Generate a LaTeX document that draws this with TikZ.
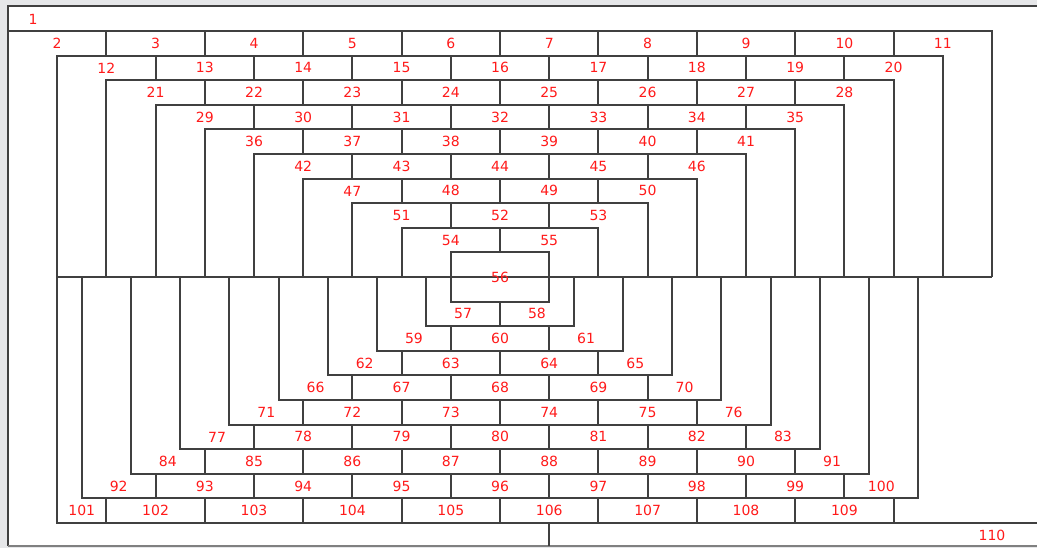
\documentclass[tikz,border=0pt]{standalone}
\usepackage{fontspec}
\setmainfont{DejaVu Sans}
\definecolor{lncol}{HTML}{404040}
\definecolor{labcol}{HTML}{FF1A1A}
\definecolor{bgcol}{HTML}{E6E7E9}
\begin{document}
\begin{tikzpicture}[x=0.75pt,y=-0.75pt,
  declare function={gx(\k)=8+49.2*\k; gy(\r)=31+24.6*\r;},
  ln/.style={draw=lncol, line width=1.5pt, line join=miter},
  lbl/.style={text=labcol, font=\fontsize{10.5}{12}\selectfont, inner sep=0pt, anchor=center}]
\useasboundingbox (0,0) rectangle (1037,548);
\fill[bgcol] (0,0) rectangle (1037,548);
\fill[white] (8,6) rectangle (1037,546);
\draw[ln] (1037,6) -- (8,6) -- (8,546);
\draw[draw=gray, line width=1pt] (8,546) -- (1037,546);
\node[lbl] (n1) at (33,19) {1};
% upper half
\foreach \r in {0,...,8}{
  \draw[ln] ({gx(\r)},{gy(10)}) -- ({gx(\r)},{gy(\r)}) -- ({gx(20-\r)},{gy(\r)}) -- ({gx(20-\r)},{gy(10)});
}
\draw[ln] ({gx(1)},{gy(10)}) -- ({gx(20)},{gy(10)});
\draw[ln] ({gx(1)},{gy(10)}) -- ({gx(1)},{gy(20)}) -- (1037,{gy(20)});
\foreach \r in {0,...,8}{
  \pgfmathtruncatemacro\n{9-\r}
  \foreach \j in {1,...,\n}{
    \draw[ln] ({gx(\r+2*\j)},{gy(\r)}) -- ({gx(\r+2*\j)},{gy(\r+1)});
  }
}
\draw[ln] ({gx(9)},{gy(9)}) rectangle ({gx(11)},{gy(11)});
\foreach \r in {0,...,8}{
  \pgfmathtruncatemacro\n{10-\r}
  \pgfmathtruncatemacro\st{2+10*\r-\r*(\r-1)/2}
  \foreach \j in {1,...,\n}{
    \pgfmathtruncatemacro\num{\st+\j-1}
    \node[lbl] (n\num) at ({gx(\r+2*\j-1)},{gy(\r)+12.3}) {\num};
  }
}
\node[lbl] (n56) at ({gx(10)},{gy(10)}) {56};
% lower half
\foreach \s in {1,...,8}{
  \draw[ln] ({gx(9.5-\s)},{gy(10)}) -- ({gx(9.5-\s)},{gy(11+\s)}) -- ({gx(10.5+\s)},{gy(11+\s)}) -- ({gx(10.5+\s)},{gy(10)});
}
\foreach \s in {1,...,9}{
  \foreach \j in {1,...,\s}{
    \draw[ln] ({gx(9+2*\j-\s)},{gy(10+\s)}) -- ({gx(9+2*\j-\s)},{gy(11+\s)});
  }
}
\foreach \s in {1,...,8}{
  \pgfmathtruncatemacro\st{57+(\s-1)*\s/2+\s-1}
  \node[lbl] (n\st) at ({gx(10.25-\s)},{gy(10+\s)+12.3}) {\st};
  \ifnum\s>1
    \pgfmathtruncatemacro\m{\s-1}
    \foreach \j in {1,...,\m}{
      \pgfmathtruncatemacro\num{\st+\j}
      \node[lbl] (n\num) at ({gx(10-\s+2*\j)},{gy(10+\s)+12.3}) {\num};
    }
  \fi
  \pgfmathtruncatemacro\la{\st+\s}
  \node[lbl] (n\la) at ({gx(9.75+\s)},{gy(10+\s)+12.3}) {\la};
}
\node[lbl] (n101) at ({gx(1.5)},{gy(19)+12.3}) {101};
\foreach \j in {1,...,8}{
  \pgfmathtruncatemacro\num{101+\j}
  \node[lbl] (n\num) at ({gx(1+2*\j)},{gy(19)+12.3}) {\num};
}
\draw[ln] ({gx(11)},{gy(20)}) -- ({gx(11)},546);
\node[lbl] (n110) at ({gx(20)},{gy(20)+12.6}) {110};
\end{tikzpicture}
\end{document}
